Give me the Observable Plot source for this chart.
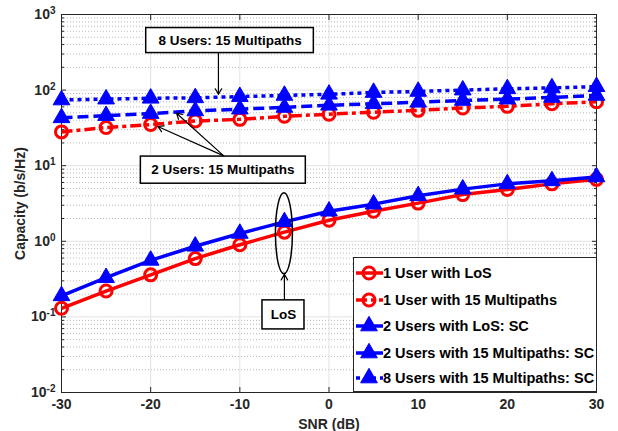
<!DOCTYPE html>
<html>
<head>
<meta charset="utf-8">
<script src="https://cdn.jsdelivr.net/npm/d3@7"></script>
<script src="https://cdn.jsdelivr.net/npm/@observablehq/plot@0.6"></script>
<style>
  html, body { margin: 0; padding: 0; background: white; }
  #wrap { position: relative; width: 618px; height: 431px; font-family: "Liberation Sans", Arial, sans-serif; font-weight: bold; color: #262626; }
  #legend { position: absolute; left: 353px; top: 257px; width: 242px; height: 133px; border: 1px solid #262626; background: white; }
  .entry { position: absolute; left: 0; height: 20px; display: flex; align-items: center; font-size: 14.5px; color: #000; white-space: nowrap; }
  .entry svg { display: block; margin-right: 0px; }
</style>
</head>
<body>
<div id="wrap"><div id="chart"></div><div id="legend"></div></div>
<script>
// ---- data ----
const snr = [-30, -25, -20, -15, -10, -5, 0, 5, 10, 15, 20, 25, 30];
const oneUserLoS    = [0.13, 0.22, 0.36, 0.59, 0.90, 1.32, 1.9, 2.5, 3.2, 4.15, 4.85, 5.75, 6.6];
const oneUserMP     = [28, 32, 35, 39, 41, 45, 48, 51, 54, 58, 61, 66, 70];
const twoUsersLoS   = [0.19, 0.33, 0.56, 0.86, 1.27, 1.81, 2.5, 3.1, 4.0, 4.9, 5.75, 6.3, 7.1];
const twoUsersMP    = [43, 46, 49, 53, 56, 59, 63, 66, 69, 73, 76, 80, 85];
const eightUsersMP  = [74, 76, 78, 79, 82, 85, 88, 93, 96, 100, 104, 107, 111];

const seriesNames = ["1 User with LoS", "1 User with 15 Multipaths", "2 Users with LoS: SC",
                     "2 Users with 15 Multipaths: SC", "8 Users with 15 Multipaths: SC"];
const seriesValues = [oneUserLoS, oneUserMP, twoUsersLoS, twoUsersMP, eightUsersMP];
const seriesColors = ["#ff0000", "#ff0000", "#0000ff", "#0000ff", "#0000ff"];
const seriesDash   = [null, "11,4,4,4", null, "11,5", "4,4"];
const seriesSymbol = ["circle", "circle", "triangle", "triangle", "triangle"];

const xTicks = [-30, -20, -10, 0, 10, 20, 30];
const yTicks = [0.01, 0.1, 1, 10, 100, 1000];

// annotation text boxes and arrows (data coordinates)
const boxes = [
  {label: "8 Users: 15 Multipaths", x1: -20.5, x2: -1.7, y1: 309, y2: 662, tx: -11.1, ty: 453},
  {label: "2 Users: 15 Multipaths", x1: -21.1, x2: -2.6, y1: 5.78, y2: 13.2, tx: -11.9, ty: 8.8},
  {label: "LoS", x1: -7.46, x2: -2.75, y1: 0.0683, y2: 0.1655, tx: -5.1, ty: 0.106}
];
const arrows = [
  {x1: -12.4, y1: 309, x2: -12.4, y2: 88},
  {x1: -11.8, y1: 13.5, x2: -17.1, y2: 49.5},
  {x1: -11.8, y1: 13.5, x2: -19.2, y2: 33},
  {x1: -5.0, y1: 0.1655, x2: -5.0, y2: 0.366}
];
const ellipse = {x: -5.0, y: 1.26, rx: 8.5, ry: 40.5};

// ---- build ----
const minorY = [];
for (const d of [0.01, 0.1, 1, 10, 100]) for (let k = 2; k <= 9; k++) minorY.push(d * k);

const seriesMarks = [];
seriesNames.forEach((name, i) => {
  const rows = snr.map((x, j) => ({x, y: seriesValues[i][j]}));
  seriesMarks.push(Plot.line(rows, {x: "x", y: "y", stroke: seriesColors[i], strokeWidth: 3.5,
    strokeDasharray: seriesDash[i] || undefined, strokeLinecap: "butt"}));
  if (seriesSymbol[i] === "circle") {
    seriesMarks.push(Plot.dot(rows, {x: "x", y: "y", r: 6, symbol: "circle", stroke: seriesColors[i], strokeWidth: 3, fill: "none"}));
  } else {
    seriesMarks.push(Plot.dot(rows, {x: "x", y: "y", r: 6.2, symbol: "triangle", fill: seriesColors[i], stroke: seriesColors[i], strokeWidth: 1}));
  }
});

const chart = Plot.plot({
  width: 618, height: 431,
  marginLeft: 61, marginRight: 22, marginTop: 14, marginBottom: 39,
  style: {fontFamily: "'Liberation Sans', Arial, sans-serif", fontWeight: "bold", fontSize: "14px", color: "#262626", background: "white"},
  x: {domain: [-30, 30]},
  y: {type: "log", domain: [0.01, 1000]},
  marks: [
    Plot.gridY(minorY, {stroke: "#b8b8b8", strokeOpacity: 1, strokeDasharray: "1,2"}),
    Plot.gridY(yTicks, {stroke: "#e2e2e2", strokeOpacity: 1}),
    Plot.gridX(xTicks, {stroke: "#e2e2e2", strokeOpacity: 1}),
    Plot.axisX(xTicks, {anchor: "bottom", tickSize: 0, tickPadding: 7, tickFormat: d => d, label: "SNR (dB)", labelArrow: "none", labelAnchor: "center", labelOffset: 36, fill: "#262626"}),
    Plot.axisX(xTicks, {anchor: "bottom", tickSize: -5, text: null, label: null}),
    Plot.axisX(xTicks, {anchor: "top", tickSize: -5, text: null, label: null}),
    Plot.axisY(yTicks, {anchor: "left", tickSize: 0, tickPadding: 6, tickFormat: d => "10^" + Math.round(Math.log10(d)), label: "Capacity (b/s/Hz)", labelArrow: "none", labelAnchor: "center", labelOffset: 46, fill: "#262626"}),
    Plot.axisY(yTicks, {anchor: "left", tickSize: -5, text: null, label: null}),
    Plot.axisY(minorY, {anchor: "left", tickSize: -3, text: null, label: null}),
    Plot.axisY(yTicks, {anchor: "right", tickSize: -5, text: null, label: null}),
    Plot.axisY(minorY, {anchor: "right", tickSize: -3, text: null, label: null}),
    Plot.frame({stroke: "#262626", strokeWidth: 1}),
    ...seriesMarks,
    Plot.arrow(arrows, {x1: "x1", y1: "y1", x2: "x2", y2: "y2", stroke: "#000", strokeWidth: 1.2, headLength: 8}),
    Plot.rect(boxes, {x1: "x1", x2: "x2", y1: "y1", y2: "y2", fill: "white", stroke: "#000", strokeWidth: 1.5}),
    Plot.text(boxes, {x: "tx", y: "ty", text: "label", fontSize: 13.5, fontWeight: "bold", fill: "#000", lineAnchor: "middle"})
  ]
});
document.getElementById("chart").appendChild(chart);

// strip any label arrows (older Plot versions)
d3.select(chart).selectAll('g[aria-label$="-axis label"] text').each(function() {
  const s = d3.select(this);
  s.text(s.text().replace(/\s*[→↑←↓]\s*/g, "").trim());
});

// superscript exponents on y tick labels
d3.select(chart).selectAll('g[aria-label="y-axis tick label"] text').each(function() {
  const t = d3.select(this).text();
  if (t.includes("^")) {
    const [base, exp] = t.split("^");
    const sel = d3.select(this);
    sel.text(base);
    sel.append("tspan").attr("dy", "-0.5em").attr("font-size", "10px").text(exp);
  }
});

// ellipse around LoS curves
const sx = chart.scale("x"), sy = chart.scale("y");
d3.select(chart).append("ellipse")
  .attr("cx", sx.apply(ellipse.x)).attr("cy", sy.apply(ellipse.y))
  .attr("rx", ellipse.rx).attr("ry", ellipse.ry)
  .attr("fill", "none").attr("stroke", "#000").attr("stroke-width", 1.5);

// legend
const legend = d3.select("#legend");
const entryTops = [5, 32, 58, 85, 110];
seriesNames.forEach((name, i) => {
  const e = legend.append("div").attr("class", "entry").style("top", entryTops[i] + "px");
  const s = e.append("svg").attr("width", 29).attr("height", 20);
  s.append("line").attr("x1", 2).attr("x2", 29).attr("y1", 10).attr("y2", 10)
    .attr("stroke", seriesColors[i]).attr("stroke-width", 3.5)
    .attr("stroke-dasharray", seriesDash[i] || null);
  if (seriesSymbol[i] === "circle") {
    s.append("circle").attr("cx", 15).attr("cy", 10).attr("r", 6)
      .attr("fill", "none").attr("stroke", seriesColors[i]).attr("stroke-width", 3);
  } else {
    s.append("path").attr("transform", "translate(15,10)")
      .attr("d", d3.symbol(d3.symbolTriangle, Math.PI * 6.2 * 6.2)())
      .attr("fill", seriesColors[i]).attr("stroke", seriesColors[i]);
  }
  e.append("span").text(name);
});
</script>
</body>
</html>
